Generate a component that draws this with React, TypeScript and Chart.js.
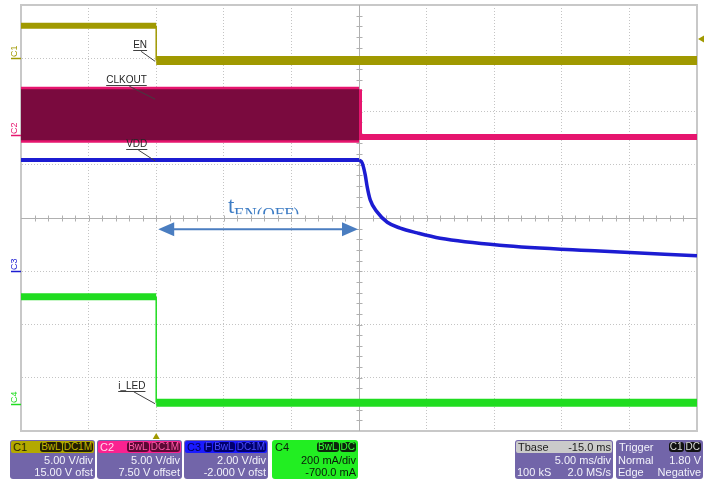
import React, { useEffect, useRef } from "react";
import { Chart, registerables } from "chart.js";

Chart.register(...registerables);

// ---- axes: time in ms (5 ms/div, trigger at 0), vertical in screen divisions ----
const TIME_MIN = -10;
const TIME_MAX = 40;
const TIME_STEP = 5;
const DIV_MIN = -4;
const DIV_MAX = 4;

// ---- C1 : EN (divisions) ----
const EN_HIGH_T = [-10, 0];
const EN_HIGH = [3.61, 3.61];
const EN_EDGE_T = [0, 0];
const EN_EDGE = [3.61, 2.96];
const EN_LOW_T = [0, 40];
const EN_LOW = [2.96, 2.96];

// ---- C2 : CLKOUT ----
const CLK_T = [-10, 15];
const CLK_TOP = [2.42, 2.42];
const CLK_BOT = [1.46, 1.46];
const CLK_AFTER_T = [15, 15, 40];
const CLK_AFTER = [2.42, 1.52, 1.52];

// ---- C3 : VDD ----
const VDD_FLAT_T = [-10, 15];
const VDD_FLAT = [1.09, 1.09];
const VDD_T = [15, 15.24, 15.46, 15.61, 15.83, 16.35, 17.09, 18.05, 19.3, 21.0, 25.4, 32.8, 40];
const VDD = [1.09, 1.03, 0.81, 0.58, 0.34, 0.11, -0.08, -0.19, -0.28, -0.38, -0.51, -0.62, -0.71];

// ---- C4 : i_LED ----
const ILED_HIGH_T = [-10, 0];
const ILED_HIGH = [-1.48, -1.48];
const ILED_EDGE_T = [0, 0];
const ILED_EDGE = [-1.48, -3.47];
const ILED_LOW_T = [0, 40];
const ILED_LOW = [-3.47, -3.47];

// channel ground markers (divisions) and trigger
const CH_LABELS = ["C1", "C2", "C3", "C4"];
const CH_OFFSETS = [3.0, 1.56, -1.0, -3.5];
const TRIG_TIME = 0;
const TRIG_LEVEL_DIV = 3.36;
const T_OFF_START = 0;
const T_OFF_END = 15;

const C1_COL = "#a09900";
const C2_COL = "#e6156e";
const C2_FILL = "#7a0a3e";
const C3_COL = "#1c1cd2";
const C4_COL = "#20dc20";
const CH_COLORS = [C1_COL, C2_COL, C3_COL, C4_COL];
const GRID = "#c4c4c4";
const ARROW = "#4a7dc0";

const zip = (xs: number[], ys: number[]) => xs.map((x, i) => ({ x, y: ys[i] }));

const line = (data: any[], color: string, width: number, extra: any = {}) => ({
  data,
  borderColor: color,
  borderWidth: width,
  pointRadius: 0,
  tension: 0,
  fill: false,
  borderCapStyle: "butt",
  ...extra,
});

const overlay = {
  id: "scopeOverlay",
  beforeDatasetsDraw(chart: any) {
    const { ctx, chartArea: a, scales } = chart;
    const x = scales.x;
    const y = scales.y;
    ctx.save();
    ctx.strokeStyle = "#c8c8c8";
    ctx.lineWidth = 2;
    ctx.beginPath();
    ctx.moveTo(a.left, a.top);
    ctx.lineTo(a.right, a.top);
    ctx.lineTo(a.right, a.bottom);
    ctx.stroke();
    const cx = Math.round(x.getPixelForValue(15)) + 0.5;
    const cy = Math.round(y.getPixelForValue(0)) + 0.5;
    ctx.strokeStyle = "#b0b0b0";
    ctx.lineWidth = 1;
    ctx.beginPath();
    ctx.moveTo(cx, a.top);
    ctx.lineTo(cx, a.bottom);
    ctx.moveTo(a.left, cy);
    ctx.lineTo(a.right, cy);
    for (let t = TIME_MIN + 1; t < TIME_MAX; t += 1) {
      const px = Math.round(x.getPixelForValue(t)) + 0.5;
      ctx.moveTo(px, cy - 3);
      ctx.lineTo(px, cy + 3);
    }
    for (let k = 1; k < 40; k++) {
      const d = DIV_MIN + k * 0.2;
      const py = Math.round(y.getPixelForValue(d)) + 0.5;
      ctx.moveTo(cx - 3, py);
      ctx.lineTo(cx + 3, py);
    }
    ctx.stroke();
    ctx.restore();
  },
  afterDatasetsDraw(chart: any) {
    const { ctx, chartArea: a, scales } = chart;
    const x = scales.x;
    const y = scales.y;
    ctx.save();

    // channel markers on the left
    CH_LABELS.forEach((lab, i) => {
      const py = Math.round(y.getPixelForValue(CH_OFFSETS[i]));
      ctx.save();
      ctx.translate(17, py - 1);
      ctx.rotate(-Math.PI / 2);
      ctx.font = "9px 'Liberation Sans', Arial, sans-serif";
      ctx.fillStyle = CH_COLORS[i];
      ctx.textBaseline = "alphabetic";
      ctx.textAlign = "left";
      ctx.fillText(lab, 0, 0);
      ctx.restore();
      ctx.strokeStyle = CH_COLORS[i];
      ctx.lineWidth = 1.5;
      ctx.beginPath();
      ctx.moveTo(11, py + 0.5);
      ctx.lineTo(a.left, py + 0.5);
      ctx.stroke();
    });

    // trigger level marker (right) and trigger position marker (bottom)
    const ty = y.getPixelForValue(TRIG_LEVEL_DIV);
    ctx.fillStyle = C1_COL;
    ctx.beginPath();
    ctx.moveTo(a.right + 1, ty);
    ctx.lineTo(a.right + 7, ty - 3.5);
    ctx.lineTo(a.right + 7, ty + 3.5);
    ctx.closePath();
    ctx.fill();
    const tx = x.getPixelForValue(TRIG_TIME);
    ctx.beginPath();
    ctx.moveTo(tx, a.bottom + 2);
    ctx.lineTo(tx - 3.5, a.bottom + 8);
    ctx.lineTo(tx + 3.5, a.bottom + 8);
    ctx.closePath();
    ctx.fill();

    // signal labels with leader lines
    const labels: [string, number, number, number, number][] = [
      ["EN", 0, EN_LOW[0], -23, -12],
      ["CLKOUT", 0, 2.25, -50, -15],
      ["VDD", 0, VDD[0], -30, -13],
      ["i_LED", 0, ILED_LOW[0], -38, -14],
    ];
    ctx.font = "10px 'Liberation Sans', Arial, sans-serif";
    labels.forEach(([text, t, d, dx, dy]) => {
      const ax = x.getPixelForValue(t);
      const ay = y.getPixelForValue(d);
      const lx = ax + dx;
      const ly = ay + dy;
      const w = ctx.measureText(text).width;
      ctx.fillStyle = "#262626";
      ctx.fillText(text, lx, ly);
      ctx.strokeStyle = "#404040";
      ctx.lineWidth = 1;
      ctx.beginPath();
      ctx.moveTo(lx, Math.round(ly) + 2.5);
      ctx.lineTo(lx + w, Math.round(ly) + 2.5);
      ctx.moveTo(lx + w * 0.57, ly + 3);
      ctx.lineTo(ax - 1, ay + 1);
      ctx.stroke();
    });

    // t_EN(OFF) double arrow
    const x0 = x.getPixelForValue(T_OFF_START) + 2;
    const x1 = x.getPixelForValue(T_OFF_END) - 1;
    const ay = y.getPixelForValue(-0.21);
    ctx.strokeStyle = ARROW;
    ctx.fillStyle = ARROW;
    ctx.lineWidth = 2;
    ctx.beginPath();
    ctx.moveTo(x0 + 12, ay);
    ctx.lineTo(x1 - 12, ay);
    ctx.stroke();
    ctx.beginPath();
    ctx.moveTo(x0, ay);
    ctx.lineTo(x0 + 16, ay - 7);
    ctx.lineTo(x0 + 16, ay + 7);
    ctx.closePath();
    ctx.moveTo(x1, ay);
    ctx.lineTo(x1 - 16, ay - 7);
    ctx.lineTo(x1 - 16, ay + 7);
    ctx.closePath();
    ctx.fill();

    const labX = (x0 + x1) / 2 - 30;
    ctx.fillStyle = "#3d7cc4";
    ctx.font = "23px 'Liberation Serif', 'Times New Roman', serif";
    ctx.fillText("t", labX, ay - 16);
    ctx.save();
    ctx.beginPath();
    ctx.rect(labX, ay - 40, 90, 25);
    ctx.clip();
    ctx.font = "17px 'Liberation Serif', 'Times New Roman', serif";
    ctx.fillText("EN(OFF)", labX + 6, ay - 10);
    ctx.restore();

    ctx.restore();
  },
};

type PanelProps = {
  left: number;
  width: number;
  headerBg: string;
  bodyBg?: string;
  title: string;
  titleColor: string;
  headerRight?: string;
  headerRightColor?: string;
  badges?: string[];
  badgeBg?: string;
  badgeColor?: string;
  lines: [string, string][];
  textColor?: string;
};

const PANEL_BG = "#7265a9";

function Panel(p: PanelProps) {
  const font = "'Liberation Sans', Arial, sans-serif";
  return (
    <div
      style={{
        position: "absolute",
        left: p.left,
        top: 440,
        width: p.width,
        height: 39,
        background: p.bodyBg || PANEL_BG,
        borderRadius: 3,
        fontFamily: font,
        fontSize: 11,
        color: p.textColor || "#f2f2fa",
        overflow: "hidden",
      }}
    >
      <div
        style={{
          position: "absolute",
          left: 1,
          top: 1,
          right: 1,
          height: 12,
          lineHeight: "12px",
          background: p.headerBg,
          borderRadius: 2,
          display: "flex",
          alignItems: "center",
          justifyContent: "space-between",
          padding: "0 1px 0 2px",
          boxSizing: "border-box",
          whiteSpace: "nowrap",
        }}
      >
        <span style={{ color: p.titleColor }}>{p.title}</span>
        {p.headerRight ? (
          <span style={{ color: p.headerRightColor || p.titleColor }}>{p.headerRight}</span>
        ) : (
          <span style={{ display: "flex", gap: 1 }}>
            {(p.badges || []).map((b) => (
              <span
                key={b}
                style={{
                  background: p.badgeBg,
                  color: p.badgeColor,
                  borderRadius: 3,
                  padding: "0 1px",
                  fontSize: 10,
                  lineHeight: "10px",
                  height: 10,
                }}
              >
                {b}
              </span>
            ))}
          </span>
        )}
      </div>
      {p.lines.map((ln, i) => (
        <div
          key={i}
          style={{
            position: "absolute",
            left: 2,
            right: 2,
            top: 14 + i * 12,
            height: 12,
            lineHeight: "12px",
            display: "flex",
            justifyContent: "space-between",
            whiteSpace: "nowrap",
          }}
        >
          <span>{ln[0]}</span>
          <span>{ln[1]}</span>
        </div>
      ))}
    </div>
  );
}

export default function App() {
  const ref = useRef<HTMLCanvasElement | null>(null);

  useEffect(() => {
    if (!ref.current) return;
    const chart = new Chart(ref.current, {
      type: "line",
      data: {
        datasets: [
          line(zip(CLK_T, CLK_TOP), "rgba(0,0,0,0)", 0, {
            fill: { value: CLK_BOT[0] },
            backgroundColor: C2_FILL,
          }),
          line(zip(CLK_T, CLK_BOT), C2_COL, 5),
          line(zip(CLK_T, CLK_TOP), C2_COL, 5),
          line(zip(CLK_AFTER_T, CLK_AFTER), C2_COL, 6),
          line(zip(EN_HIGH_T, EN_HIGH), C1_COL, 6),
          line(zip(EN_EDGE_T, EN_EDGE), C1_COL, 1.5),
          line(zip(EN_LOW_T, EN_LOW), C1_COL, 9),
          line(zip(VDD_FLAT_T, VDD_FLAT), C3_COL, 4),
          line(zip(VDD_T, VDD), C3_COL, 3.5, { cubicInterpolationMode: "monotone" }),
          line(zip(ILED_HIGH_T, ILED_HIGH), C4_COL, 7),
          line(zip(ILED_EDGE_T, ILED_EDGE), C4_COL, 1.5),
          line(zip(ILED_LOW_T, ILED_LOW), C4_COL, 8),
        ] as any,
      },
      options: {
        animation: false,
        responsive: false,
        devicePixelRatio: 1,
        layout: { padding: { left: 21, top: 5, right: 12, bottom: 49 } },
        plugins: { legend: { display: false }, tooltip: { enabled: false } },
        scales: {
          x: {
            type: "linear",
            min: TIME_MIN,
            max: TIME_MAX,
            ticks: { display: false, stepSize: TIME_STEP },
            grid: { color: GRID, drawTicks: false, lineWidth: 1 },
            border: { display: true, color: "#c8c8c8", width: 2, dash: [1, 2] },
          },
          y: {
            type: "linear",
            min: DIV_MIN,
            max: DIV_MAX,
            ticks: { display: false, stepSize: 1 },
            grid: { color: GRID, drawTicks: false, lineWidth: 1 },
            border: { display: true, color: "#c8c8c8", width: 2, dash: [1, 2] },
          },
        },
      } as any,
      plugins: [overlay],
    });
    return () => chart.destroy();
  }, []);

  return (
    <div style={{ position: "fixed", left: 0, top: 0, width: 709, height: 480, background: "#fff" }}>
      <canvas ref={ref} width={709} height={480} style={{ width: 709, height: 480, display: "block" }} />
      <Panel left={10} width={85} headerBg="#b3a900" title="C1" titleColor="#2a2600" badges={["BwL", "DC1M"]} badgeBg="#231f00" badgeColor="#c4b800" lines={[["", "5.00 V/div"], ["", "15.00 V ofst"]]} />
      <Panel left={97} width={85} headerBg="#fa2290" title="C2" titleColor="#ffd6ea" badges={["BwL", "DC1M"]} badgeBg="#5c0834" badgeColor="#ff5aa8" lines={[["", "5.00 V/div"], ["", "7.50 V offset"]]} />
      <Panel left={184} width={84} headerBg="#1a1aff" title="C3" titleColor="#00005a" badges={["F", "BwL", "DC1M"]} badgeBg="#00006e" badgeColor="#4a4aff" lines={[["", "2.00 V/div"], ["", "-2.000 V ofst"]]} />
      <Panel left={272} width={86} headerBg="#22ee22" bodyBg="#22ee22" title="C4" titleColor="#0a200a" badges={["BwL", "DC"]} badgeBg="#0c260c" badgeColor="#33ff33" textColor="#0a1a0a" lines={[["", "200 mA/div"], ["", "-700.0 mA"]]} />
      <Panel left={515} width={98} headerBg="#cacaca" title="Tbase" titleColor="#222" headerRight="-15.0 ms" lines={[["", "5.00 ms/div"], ["100 kS", "2.0 MS/s"]]} />
      <Panel left={616} width={87} headerBg={PANEL_BG} title="Trigger" titleColor="#f2f2fa" badges={["C1", "DC"]} badgeBg="#111" badgeColor="#ddd" lines={[["Normal", "1.80 V"], ["Edge", "Negative"]]} />
    </div>
  );
}
